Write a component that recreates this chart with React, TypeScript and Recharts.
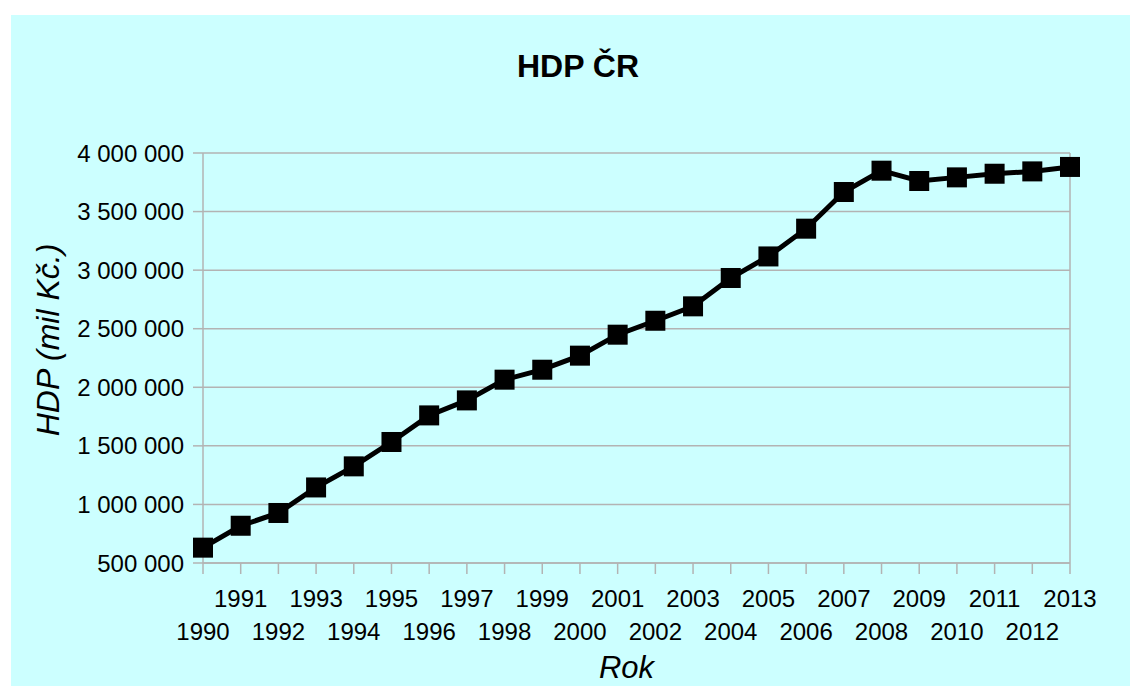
import React from 'react'
import { LineChart, Line, XAxis, YAxis, CartesianGrid, ReferenceLine, Label } from 'recharts'

const years = ['1990', '1991', '1992', '1993', '1994', '1995', '1996', '1997', '1998', '1999', '2000', '2001',
  '2002', '2003', '2004', '2005', '2006', '2007', '2008', '2009', '2010', '2011', '2012', '2013']
const hdp = [631000, 818000, 927000, 1145000, 1325000, 1533000, 1760000, 1888000, 2065000, 2150000, 2270000, 2449000,
  2568000, 2691000, 2933000, 3117000, 3354000, 3667000, 3849000, 3761000, 3792000, 3823000, 3843000, 3881000]
const yTicks = [500000, 1000000, 1500000, 2000000, 2500000, 3000000, 3500000, 4000000]

const data = years.map((y, i) => ({ year: y, hdp: hdp[i] }))

const C = { bg: '#ccffff', grid: '#b3b3b3', ink: '#000000' }
const FONT = '"Liberation Sans", Arial, sans-serif'

const fmt = (v: number) => String(v).replace(/\B(?=(\d{3})+(?!\d))/g, ' ')

const XTick = ({ x, y, payload }: any) => {
  const i = years.indexOf(String(payload.value))
  return (
    <text x={x} y={y + (i % 2 === 1 ? 33 : 66)} textAnchor="middle" fill={C.ink}
      style={{ fontFamily: FONT, fontSize: 24 }}>{payload.value}</text>
  )
}

const Square = ({ cx, cy }: any) => <rect x={cx - 10} y={cy - 10} width={20} height={20} fill={C.ink} />

const YTitle = ({ viewBox }: any) => {
  const cx = viewBox.x + 48
  const cy = viewBox.y + viewBox.height / 2 - 18
  return (
    <text x={cx} y={cy} transform={`rotate(-90 ${cx} ${cy})`} textAnchor="middle" dominantBaseline="central"
      fill={C.ink} style={{ fontFamily: FONT, fontSize: 32, fontStyle: 'italic' }}>HDP (mil Kč.)</text>
  )
}

// axis title sits at the very bottom edge, like the original
const XTitle = ({ viewBox }: any) => (
  <text x={viewBox.x + viewBox.width / 2 - 10} y={678} textAnchor="middle" fill={C.ink}
    style={{ fontFamily: FONT, fontSize: 31, fontStyle: 'italic' }}>Rok</text>
)

export default function App() {
  return (
    <div style={{ position: 'absolute', left: 0, top: 0, width: 1130, height: 686, background: '#fff', overflow: 'hidden' }}>
      <div style={{ position: 'absolute', left: 11, top: 15, right: 0, bottom: 0, background: C.bg }} />
      <div style={{ position: 'absolute', left: 0, top: 47, width: 1156, textAlign: 'center', fontFamily: FONT,
        fontSize: 32, fontWeight: 700, color: C.ink, lineHeight: '38px' }}>HDP ČR</div>
      <div style={{ position: 'absolute', left: 0, top: 0 }}>
        <LineChart width={1130} height={686} data={data} margin={{ top: 153, right: 60, bottom: 0, left: 0 }}>
          <CartesianGrid vertical={false} stroke={C.grid} strokeWidth={1.5} />
          <XAxis dataKey="year" interval={0} height={123} tickSize={11} tickMargin={0}
            stroke={C.grid} strokeWidth={1.5} tickLine={{ stroke: C.grid, strokeWidth: 1.5 }} tick={<XTick />}>
            <Label content={<XTitle />} />
          </XAxis>
          <YAxis width={203} domain={[500000, 4000000]} ticks={yTicks} tickFormatter={fmt} allowDataOverflow
            tickSize={10} tickMargin={9} stroke={C.grid} strokeWidth={1.5}
            tickLine={{ stroke: C.grid, strokeWidth: 1.5 }}
            tick={{ fill: C.ink, fontSize: 24, fontFamily: FONT }}>
            <Label content={<YTitle />} />
          </YAxis>
          <ReferenceLine x="2013" stroke={C.grid} strokeWidth={1.5} />
          <Line dataKey="hdp" stroke={C.ink} strokeWidth={5} dot={<Square />} activeDot={false}
            isAnimationActive={false} />
        </LineChart>
      </div>
    </div>
  )
}
